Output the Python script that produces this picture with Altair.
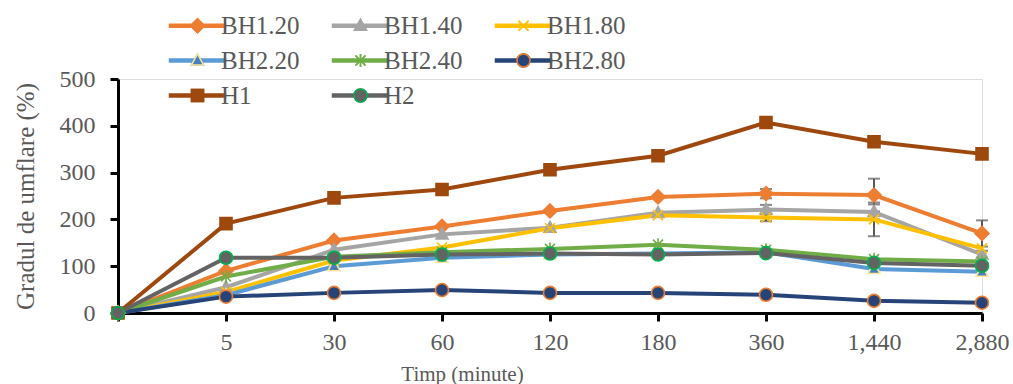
import altair as alt
import pandas as pd

times = ["0", "5", "30", "60", "120", "180", "360", "1,440", "2,880"]
series = ["BH1.20", "BH1.40", "BH1.80", "BH2.20", "BH2.40", "BH2.80", "H1", "H2"]

bh1_20 = [0, 90, 155, 185, 218, 248, 255, 252, 170]
bh1_40 = [0, 55, 135, 168, 182, 214, 221, 216, 125]
bh1_80 = [0, 45, 112, 140, 181, 209, 204, 200, 138]
bh2_20 = [0, 38, 100, 118, 125, 127, 130, 94, 88]
bh2_40 = [0, 78, 120, 130, 137, 146, 135, 115, 110]
bh2_80 = [0, 35, 43, 49, 43, 43, 39, 26, 22]
h1 = [0, 191, 246, 264, 306, 336, 407, 366, 340]
h2 = [0, 118, 118, 125, 127, 125, 128, 107, 101]
all_values = [bh1_20, bh1_40, bh1_80, bh2_20, bh2_40, bh2_80, h1, h2]

# error bars: series, time, half-width
err_series = ["BH1.20", "BH1.40", "BH1.80", "BH1.20", "BH1.40", "BH1.80", "BH1.20", "BH1.40", "H2"]
err_times = ["360", "360", "360", "1,440", "1,440", "1,440", "2,880", "2,880", "360"]
err_sizes = [10, 10, 8, 35, 16, 36, 28, 8, 5]

line_colors = ["#ED7D31", "#A5A5A5", "#FFC000", "#5B9BD5", "#70AD47", "#264478", "#9E480E", "#636363"]
marker_fill = ["#ED7D31", "#A5A5A5", "#FFC000", "#4A7EBB", "#70AD47", "#264478", "#9E480E", "#636363"]
marker_stroke = ["#ED7D31", "#A5A5A5", "#FFC000", "#FFE699", "#70AD47", "#ED7D31", "#9E480E", "#00B050"]

DIAMOND = "M0,-1.4L1.4,0L0,1.4L-1.4,0Z"
TRI = "M0,-1.3L1.2,0.9L-1.2,0.9Z"
XMARK = "M-1,-1L1,1M-1,1L1,-1"
STAR = "M-1,-1L1,1M-1,1L1,-1M0,-1.3L0,1.3"
CIRC = "M1.3,0A1.3,1.3,0,1,1,-1.3,0A1.3,1.3,0,1,1,1.3,0Z"
SQUARE = "M-1.2,-1.2H1.2V1.2H-1.2Z"
marker_paths = [DIAMOND, TRI, XMARK, TRI, STAR, CIRC, SQUARE, CIRC]

# legend symbols: a line layer (line + marker silhouette) and a marker layer on top
LINE = "M-5.6,-0.3H5.6V0.3H-5.6Z "
PADB = " M-5.6,0L-5.599,0M5.6,0L5.599,0"
legend_line_paths = [LINE + p for p in marker_paths]
legend_marker_paths = [p + PADB for p in marker_paths]

rows = []
for s, vals in zip(series, all_values):
    for t, v in zip(times, vals):
        rows.append({"series": s, "time": t, "value": v})
df = pd.DataFrame(rows)

erows = []
for s, t, e in zip(err_series, err_times, err_sizes):
    v = all_values[series.index(s)][times.index(t)]
    erows.append({"series": s, "time": t, "low": v - e, "high": v + e})
edf = pd.DataFrame(erows)

FONT = "Liberation Serif"
GREY = "#595959"

x_enc = alt.X(
    "time:N",
    sort=times,
    scale=alt.Scale(type="point", padding=0),
    axis=alt.Axis(
        title="Timp (minute)",
        labelExpr="datum.value == '0' ? '' : datum.label",
        labelAngle=0,
        labelFont=FONT, labelFontSize=24, labelColor=GREY, labelPadding=9,
        titleFont=FONT, titleFontSize=21, titleColor=GREY, titleFontWeight="normal",
        titleX=344, titleY=61, titleBaseline="middle", titleAnchor="start", titleAlign="center",
        domainColor="black", domainWidth=3, tickColor="black", tickWidth=3, tickSize=8,
        grid=False,
    ),
)
y_axis = alt.Axis(
    title="Gradul de umflare (%)",
    values=[0, 100, 200, 300, 400, 500],
    labelFont=FONT, labelFontSize=24, labelColor=GREY, labelPadding=15,
    titleFont=FONT, titleFontSize=25, titleColor=GREY, titleFontWeight="normal",
    titleX=-93, titleY=117, titleBaseline="middle", titleAngle=-90, titleAlign="center",
    domainColor="black", domainWidth=3, tickColor="black", tickWidth=3, tickSize=8,
    grid=False,
)
y_scale = alt.Scale(domain=[0, 500], nice=False)

base = alt.Chart(df)

errbars = alt.Chart(edf).mark_errorbar(
    ticks={"size": 12}, color=GREY, thickness=2
).encode(
    x=x_enc,
    y=alt.Y("low:Q", scale=y_scale, axis=y_axis, title="Gradul de umflare (%)"),
    y2="high:Q",
)

lines = base.mark_line(strokeWidth=4).encode(
    x=x_enc,
    y=alt.Y("value:Q", scale=y_scale, axis=y_axis, title="Gradul de umflare (%)"),
    color=alt.Color("series:N", scale=alt.Scale(domain=series, range=line_colors), legend=None),
)

points = base.mark_point(filled=True, size=100, strokeWidth=1.6, opacity=1).encode(
    x=x_enc,
    y=alt.Y("value:Q", scale=y_scale),
    shape=alt.Shape("series:N", scale=alt.Scale(domain=series, range=marker_paths), legend=None),
    fill=alt.Fill("series:N", scale=alt.Scale(domain=series, range=marker_fill), legend=None),
    stroke=alt.Stroke("series:N", scale=alt.Scale(domain=series, range=marker_stroke), legend=None),
)


def make_leg(label_color):
    return alt.Legend(
        title=None, orient="none", legendX=67, legendY=-66, columns=3, direction="horizontal",
        symbolSize=100, symbolStrokeWidth=1.5, symbolOpacity=1,
        labelFont=FONT, labelFontSize=25, labelColor=label_color, labelOffset=11,
        rowPadding=9, columnPadding=29, padding=0, gridAlign="all", labelLimit=200,
    )


def legend_layer(paths, fills, strokes, label_color):
    leg = make_leg(label_color)
    return base.transform_filter("datum.value < -1000").mark_point(
        filled=True, size=100, strokeWidth=1.5, opacity=1
    ).encode(
        x=x_enc,
        y=alt.Y("value:Q", scale=y_scale),
        shape=alt.Shape("series:N", scale=alt.Scale(domain=series, range=paths), legend=leg, title=None),
        fill=alt.Fill("series:N", scale=alt.Scale(domain=series, range=fills), legend=leg, title=None),
        stroke=alt.Stroke("series:N", scale=alt.Scale(domain=series, range=strokes), legend=leg, title=None),
    )


legend_lines = legend_layer(legend_line_paths, line_colors, line_colors, GREY)
legend_marks = legend_layer(legend_marker_paths, marker_fill, marker_stroke, "transparent")

chart = alt.layer(errbars, lines, points, legend_lines, legend_marks).resolve_scale(
    shape="independent", fill="independent", stroke="independent"
).resolve_legend(
    shape="independent", fill="independent", stroke="independent"
).properties(
    width=864, height=234,
    autosize=alt.AutoSizeParams(type="none"),
    padding={"left": 118, "top": 79, "right": 31, "bottom": 71},
).configure_view(stroke=None).configure(background="white")

chart.save("out.html", embed_options={"renderer": "svg", "actions": False})
